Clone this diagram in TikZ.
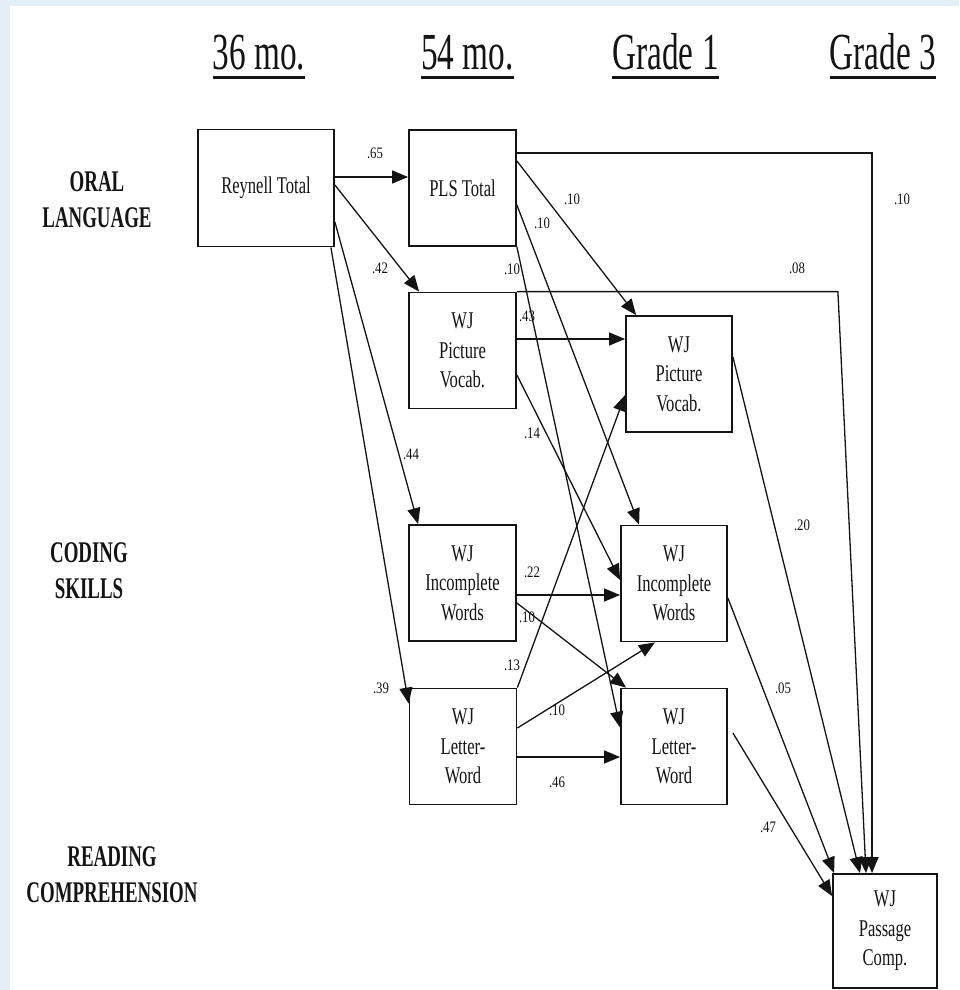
\documentclass[tikz,border=0pt]{standalone}
\usepackage{fontspec}
\setmainfont{Liberation Serif}
\newfontfamily\boxfont[FakeStretch=0.69]{Liberation Serif}
\newfontfamily\headfont[FakeStretch=0.64]{Liberation Serif}
\newfontfamily\groupfont[FakeStretch=0.63]{Liberation Serif}
\newfontfamily\coeffont[FakeStretch=0.8]{Liberation Serif}
\usepackage{tikz}
\usetikzlibrary{arrows.meta}
\definecolor{bgblue}{RGB}{228,238,247}
\definecolor{ink}{RGB}{20,20,20}
\newcommand{\headrule}[1]{\draw[ink,line width=3pt] ([yshift=-7pt]#1.south west) -- ([yshift=-7pt]#1.south east);}

\tikzset{
  box/.style={draw=ink, line width=1.8pt, minimum width=107pt, minimum height=116pt, inner sep=0pt, align=center, text=ink, font=\boxfont\fontsize{24}{29.5}\selectfont},
  link/.style={draw=ink, line width=1.3pt, -{Triangle[length=16pt,width=13pt]}},
  coef/.style={inner sep=0pt, text=ink, font=\coeffont\fontsize{16}{16}\selectfont},
  group/.style={inner sep=0pt, align=center, text=ink, font=\groupfont\bfseries\fontsize{30}{36}\selectfont},
  head/.style={inner sep=0pt, anchor=base, text=ink, font=\headfont\fontsize{52}{52}\selectfont}
}

\begin{document}
\begin{tikzpicture}[x=1pt,y=-1pt]
		\useasboundingbox (0,0) rectangle (959,990);
		\fill[bgblue] (0,0) rectangle (959,990);
		\fill[white] (10,6) rectangle (959,990);
		
		% time points
		\node[head] (h36) at (259,70) {36 mo.};
		\node[head] (h54) at (467.5,70) {54 mo.};
		\node[head] (hg1) at (665.5,70) {Grade 1};
		\node[head] (hg3) at (883,70) {Grade 3};
		\foreach \h in {h36,h54,hg1,hg3} {\headrule{\h}}
		
		% domains
		\node[group] (oral) at (97,200) {ORAL\\LANGUAGE};
		\node[group] (coding) at (89,571) {CODING\\SKILLS};
		\node[group] (reading) at (112,875) {READING\\COMPREHENSION};
		
		% measures
		\node[box, minimum width=136pt, minimum height=117pt] (rey) at (266,188) {Reynell Total};
		\node[box] (pls) at (462.5,188) {PLS Total};
		\node[box] (pv54) at (462.5,350.5) {WJ\\Picture\\Vocab.};
		\node[box] (iw54) at (462.5,583) {WJ\\Incomplete\\Words};
		\node[box] (lw54) at (463,746.5) {WJ\\Letter-\\Word};
		\node[box, minimum width=106pt] (pv1) at (679,374) {WJ\\Picture\\Vocab.};
		\node[box, minimum width=106pt] (iw1) at (674,583.5) {WJ\\Incomplete\\Words};
		\node[box, minimum width=106pt] (lw1) at (674,746.5) {WJ\\Letter-\\Word};
		\node[box, minimum width=104pt, minimum height=114pt] (pc) at (885,931) {WJ\\Passage\\Comp.};
		
		% paths
		\draw[link] ([yshift=11pt]rey.east) -- ([yshift=11pt]pls.west);
		\draw[link] ([yshift=3pt]rey.east) -- ([xshift=11pt]pv54.north west);
		\draw[link] ([yshift=-34pt]rey.east) -- ([xshift=10pt]iw54.north west);
		\draw[link] ([xshift=-4pt]rey.south east) -- ([yshift=-16pt]lw54.north west);
		\draw[link] ([yshift=27pt]pls.east) -- ([xshift=11pt]pv1.north west);
		\draw[link] ([yshift=-17pt]pls.east) -- ([xshift=19pt]iw1.north west);
		\draw[link] (pls.south east) -- ([yshift=-40pt]lw1.north west);
		\coordinate (s43) at ([yshift=11.5pt]pv54.east);
		\draw[link] (s43) -- (s43 -| pv1.west);
		\draw[link] ([yshift=-24.5pt]pv54.east) -- ([yshift=3.5pt]iw1.west);
		\coordinate (s22) at ([yshift=-12pt]iw54.east);
		\draw[link] (s22) -- (s22 -| iw1.west);
		\draw[link] ([yshift=-20pt]iw54.east) -- ([xshift=6pt]lw1.north west);
		\draw[link] (lw54.north east) -- ([yshift=-21pt]pv1.west);
		\draw[link] ([yshift=18.5pt]lw54.east) -- ([xshift=-19pt]iw1.south);
		\coordinate (s46) at ([yshift=-10.5pt]lw54.east);
		\draw[link] (s46) -- (s46 -| lw1.west);
		\draw[link] ([yshift=35pt]pls.east) -| ([xshift=-13pt]pc.north);
		\draw[link] (pv54.north east) -- ++(321,0) -- ([xshift=-19pt]pc.north);
		\draw[link] ([yshift=17pt]pv1.east) -- ([xshift=-25pt]pc.north);
		\draw[link] ([yshift=-14.5pt]iw1.east) -- ([xshift=2pt]pc.north west);
		\draw[link] ([xshift=5pt,yshift=13.5pt]lw1.east) -- ([yshift=-23pt]pc.north west);
		
		% coefficients
		\node[coef] (c65) at (375,153) {.65};
		\node[coef] (c42) at (380,268) {.42};
		\node[coef] (c44) at (411,454) {.44};
		\node[coef] (c39) at (381,688) {.39};
		\node[coef] (c10a) at (572,199) {.10};
		\node[coef] (c10b) at (542,223) {.10};
		\node[coef] (c10c) at (512,269) {.10};
		\node[coef] (c43) at (527,316) {.43};
		\node[coef] (c14) at (532,433) {.14};
		\node[coef] (c22) at (532,572) {.22};
		\node[coef] (c10d) at (527,617) {.10};
		\node[coef] (c13) at (512,665) {.13};
		\node[coef] (c10e) at (557,710) {.10};
		\node[coef] (c46) at (557,782) {.46};
		\node[coef] (c10f) at (902,199) {.10};
		\node[coef] (c08) at (797,268) {.08};
		\node[coef] (c20) at (802,525) {.20};
		\node[coef] (c05) at (783,688) {.05};
		\node[coef] (c47) at (768,827) {.47};
		
\end{tikzpicture}
\end{document}
